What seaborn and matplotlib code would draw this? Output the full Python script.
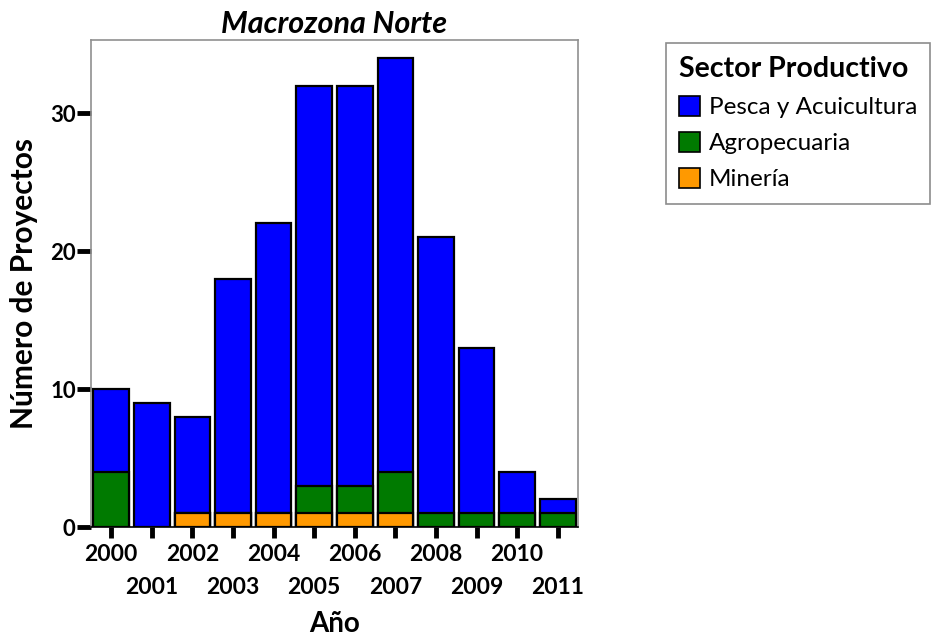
import matplotlib
matplotlib.use("Agg")
import matplotlib.pyplot as plt
import seaborn as sns
import pandas as pd
from matplotlib.patches import Patch

years = [2000, 2001, 2002, 2003, 2004, 2005, 2006, 2007, 2008, 2009, 2010, 2011]
pesca = [6, 9, 7, 17, 21, 29, 29, 30, 20, 12, 3, 1]
agro = [4, 0, 0, 0, 0, 2, 2, 3, 1, 1, 1, 1]
mineria = [0, 0, 1, 1, 1, 1, 1, 1, 0, 0, 0, 0]
sectors = ["Pesca y Acuicultura", "Agropecuaria", "Minería"]
colors = ["#0000FF", "#007A00", "#FF9900"]

sns.set_theme(style="white")
plt.rcParams['font.family'] = ['Lato', 'DejaVu Sans']
plt.rcParams['text.color'] = 'black'
plt.rcParams['axes.labelcolor'] = 'black'
plt.rcParams['xtick.color'] = 'black'
plt.rcParams['ytick.color'] = 'black'

df = pd.DataFrame({"year": [str(y) for y in years], "pesca": pesca, "agro": agro, "min": mineria})
df["c_min"] = df["min"]
df["c_agro"] = df["min"] + df["agro"]
df["c_tot"] = df["c_agro"] + df["pesca"]

fig = plt.figure(figsize=(9.32, 6.40), dpi=100)
ax = fig.add_axes([91/932, 1-527/640, (578-91)/932, (527-40)/640])

for col, c in [("c_tot", colors[0]), ("c_agro", colors[1]), ("c_min", colors[2])]:
    sns.barplot(data=df, x="year", y=col, color=c, width=0.88, edgecolor="black",
                linewidth=1.6, saturation=1, ax=ax)

for p in ax.patches:
    if p.get_height() == 0:
        p.set_visible(False)

ax.set_xlim(-0.5, 11.5)
ax.set_ylim(0, 35.3)
ax.set_yticks([0, 10, 20, 30])
ax.set_yticklabels(["0", "10", "20", "30"], fontsize=16, fontweight="bold")
ax.set_xticks(range(len(years)))
ax.set_xticklabels([str(y) for y in years], fontsize=16.5, fontweight="bold")
ax.tick_params(axis="both", which="both", direction="out", length=10, width=3.5, color="black",
               labelcolor="black", left=True, bottom=True, pad=1)
ax.tick_params(axis="x", length=8, pad=4)
for i, t in enumerate(ax.xaxis.get_major_ticks()):
    if i % 2 == 1:
        t.set_pad(4 + 24)

for s in ax.spines.values():
    s.set_color("#909090")
    s.set_linewidth(1.2)
ax.spines["bottom"].set_color("black")

ax.set_xlabel("Año", fontsize=20, fontweight="bold", labelpad=9, color="black")
ax.set_ylabel("Número de Proyectos", fontsize=21.5, fontweight="bold", labelpad=9, color="black")
ax.set_title("Macrozona Norte", fontsize=22, fontstyle="italic", fontweight="bold", pad=5,
             color="black")

handles = [Patch(facecolor=c, edgecolor="black", linewidth=1.2) for c in colors]
leg = fig.legend(handles, sectors, loc="upper left", bbox_to_anchor=(666/932, 1-43/640),
                 borderaxespad=0, title="Sector Productivo", fontsize=17.5, frameon=True,
                 fancybox=False, handlelength=0.85, handleheight=0.85, handletextpad=0.35,
                 labelspacing=0.57, borderpad=0.55, alignment="left")
leg.get_title().set_fontsize(20.5)
leg.get_title().set_fontweight("bold")
leg.get_title().set_color("black")
for t in leg.get_texts():
    t.set_color("black")
leg.get_frame().set_edgecolor("#707070")
leg.get_frame().set_linewidth(1.2)

fig.savefig("out.png", dpi=100)
